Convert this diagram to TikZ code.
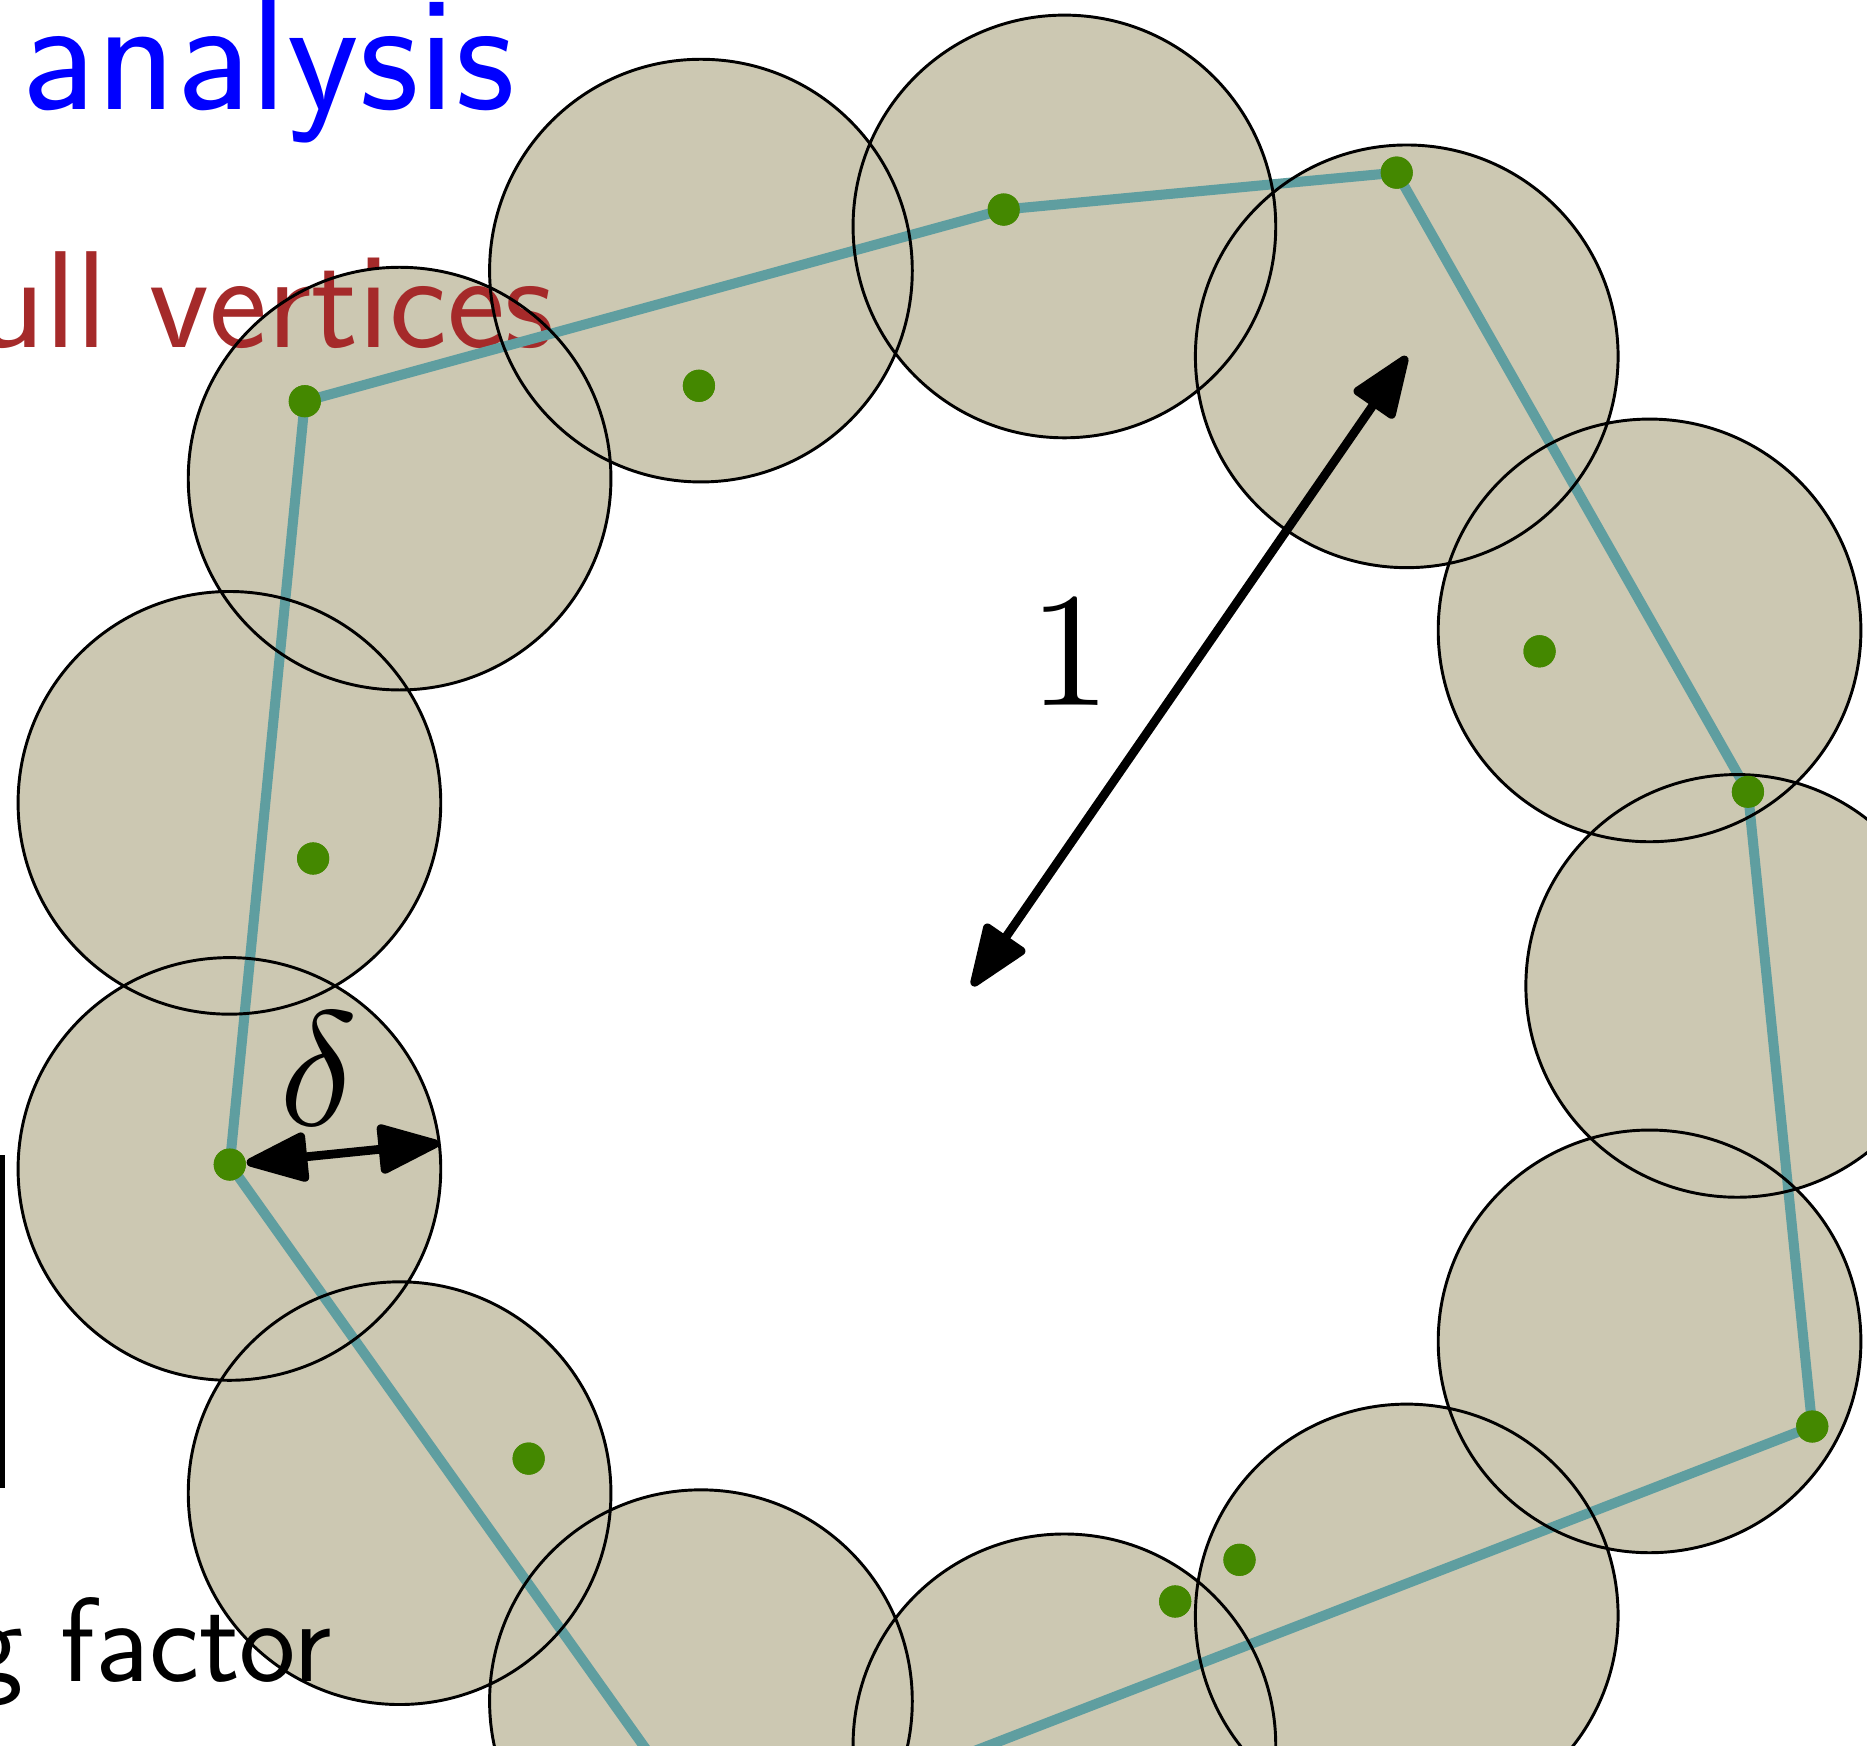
\documentclass[tikz,border=0pt]{standalone}
\usepackage{tikz}
\usetikzlibrary{arrows.meta}
\usepackage{xcolor}
\definecolor{diskfill}{HTML}{CCC8B2}
\definecolor{hullteal}{HTML}{5F9EA0}
\definecolor{ptgreen}{HTML}{448800}
\definecolor{hullred}{HTML}{A52A2A}

\begin{document}
\begin{tikzpicture}[
  disk/.style={fill=diskfill},
  ring/.style={draw=black, line width=0.7pt},
  hull/.style={hullteal, line width=2.4pt, line join=round},
  pt/.style={circle, fill=ptgreen, inner sep=0pt, minimum size=0.27cm},
  dimarrow/.style={{Triangle[length=0.58cm,width=0.43cm,round]}-{Triangle[length=0.58cm,width=0.43cm,round]}, line width=2.1pt},
  biglabel/.style={scale=3.9, transform shape, inner sep=0pt}
]
\clip (-8.165,-6.38) rectangle (7.515,8.28);
% centres of the disks, on a circle of radius 1
\coordinate (O) at (0,0);
\coordinate (c0) at (0:6.425);
\coordinate (c1) at (27.692:6.425);
\coordinate (c2) at (55.385:6.425);
\coordinate (c3) at (83.077:6.425);
\coordinate (c4) at (110.769:6.425);
\coordinate (c5) at (138.462:6.425);
\coordinate (c6) at (166.154:6.425);
\coordinate (c7) at (193.846:6.425);
\coordinate (c8) at (221.538:6.425);
\coordinate (c9) at (249.231:6.425);
\coordinate (c10) at (276.923:6.425);
\coordinate (c11) at (304.615:6.425);
\coordinate (c12) at (332.308:6.425);
\fill[disk] (c0) circle (1.775) (c1) circle (1.775) (c2) circle (1.775) (c3) circle (1.775)
  (c4) circle (1.775) (c5) circle (1.775) (c6) circle (1.775) (c7) circle (1.775)
  (c8) circle (1.775) (c9) circle (1.775) (c10) circle (1.775) (c11) circle (1.775)
  (c12) circle (1.775);
% slide text
\node[anchor=base west, inner sep=0, blue, font=\sffamily\fontsize{39.5}{42}\selectfont] (title) at (-7.99,7.36) {analysis};
\node[anchor=base east, inner sep=0, hullred, font=\sffamily\fontsize{33}{36}\selectfont] (hulltxt) at (-3.50,5.36) {ull vertices};
\node[anchor=base east, inner sep=0, font=\sffamily\fontsize{28.6}{32}\selectfont] (factortxt) at (-5.375,-5.84) {g factor};
\fill (-8.165,-1.42) rectangle (-8.125,-4.22);
% points, one near each centre
\node[pt] (p0) at (6.515,1.63) {};
\node[pt] (p1) at (4.765,2.81) {};
\node[pt] (p2) at (3.565,6.83) {};
\node[pt] (p3) at (0.265,6.52) {};
\node[pt] (p4) at (-2.295,5.04) {};
\node[pt] (p5) at (-5.605,4.91) {};
\node[pt] (p6) at (-5.535,1.07) {};
\node[pt] (p7) at (-6.235,-1.50) {};
\node[pt] (p8) at (-3.725,-3.97) {};
\node[pt] (p9) at (-2.135,-7.26) {};
\node[pt] (p10) at (1.705,-5.17) {};
\node[pt] (p11) at (2.245,-4.82) {};
\node[pt] (p12) at (7.055,-3.70) {};
% convex hull
\draw[hull] (p5.center) -- (p3.center) -- (p2.center) -- (p0.center) -- (p12.center) -- (p9.center) -- (p7.center) -- cycle;
\draw[ring] (c0) circle (1.775) (c1) circle (1.775) (c2) circle (1.775) (c3) circle (1.775)
  (c4) circle (1.775) (c5) circle (1.775) (c6) circle (1.775) (c7) circle (1.775)
  (c8) circle (1.775) (c9) circle (1.775) (c10) circle (1.775) (c11) circle (1.775)
  (c12) circle (1.775);
\node[pt] at (p0) {};
\node[pt] at (p1) {};
\node[pt] at (p2) {};
\node[pt] at (p3) {};
\node[pt] at (p4) {};
\node[pt] at (p5) {};
\node[pt] at (p6) {};
\node[pt] at (p7) {};
\node[pt] at (p8) {};
\node[pt] at (p10) {};
\node[pt] at (p11) {};
\node[pt] at (p12) {};
% radius 1 and delta
\coordinate (rim) at (-4.476,-1.322);
\draw[dimarrow] (O) -- (c2);
\node[biglabel] (one) at (0.825,2.80) {$1$};
\draw[dimarrow] (p7) -- (rim);
\node[biglabel] (dlabel) at (-5.485,-0.70) {$\delta$};
\end{tikzpicture}
\end{document}
